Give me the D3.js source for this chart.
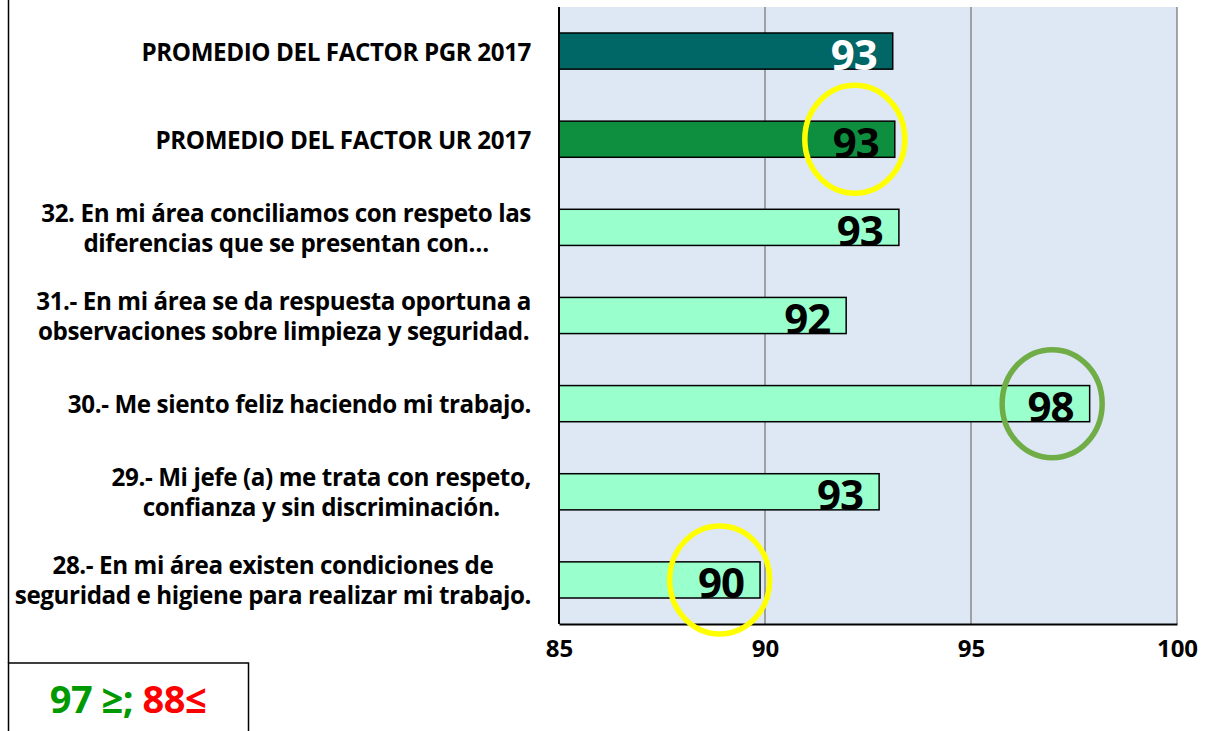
<!DOCTYPE html>
<html>
<head>
<meta charset="utf-8">
<script src="https://cdn.jsdelivr.net/npm/d3@7"></script>
<style>
  body { margin: 0; background: #fff; }
  svg { display: block; font-family: "Open Sans", Lato, sans-serif; font-weight: 700; }
</style>
</head>
<body>
<svg id="drawing_region"></svg>
<script>
// data
const categories = [
    ["PROMEDIO DEL FACTOR PGR 2017"],
    ["PROMEDIO DEL FACTOR UR 2017"],
    ["32. En mi área conciliamos con respeto las", "diferencias que se presentan con…"],
    ["31.- En mi área se da respuesta oportuna a", "observaciones sobre limpieza y seguridad."],
    ["30.- Me siento feliz haciendo mi trabajo."],
    ["29.- Mi jefe (a) me trata con respeto,", "confianza y sin discriminación."],
    ["28.- En mi área existen condiciones de", "seguridad e higiene para realizar mi trabajo."]
];
const values = [93.1, 93.15, 93.25, 91.97, 97.88, 92.77, 89.88];
const xTicks = [85, 90, 95, 100];
// highlighted labels: bar index, ellipse centre (in axis units), colour
const highlights = [
    {index: 1, at: 92.18, color: "#ffff00"},
    {index: 4, at: 96.97, color: "#70ad47"},
    {index: 6, at: 88.9, color: "#ffff00"}
];

const config = {
    width: 1227,
    height: 731,
    margin: {top: 7, right: 50, bottom: 107, left: 559}
};

const barFill = (i) => i === 0 ? "#006666" : (i === 1 ? "#0e8f3f" : "#99ffcc");

const svg = d3.select("#drawing_region")
    .attr("width", config.width)
    .attr("height", config.height);

const inner_width = config.width - config.margin.left - config.margin.right;
const inner_height = config.height - config.margin.top - config.margin.bottom;

const chart = svg.append("g")
    .attr("transform", `translate(${config.margin.left}, ${config.margin.top})`);

const xscale = d3.scaleLinear()
    .domain([85, 100])
    .range([0, inner_width]);

const yscale = d3.scaleBand()
    .domain(d3.range(values.length))
    .range([0, inner_height])
    .paddingInner(0.59)
    .paddingOuter(0.295);

// plot background
chart.append("rect")
    .attr("width", inner_width)
    .attr("height", inner_height)
    .attr("fill", "#dde8f4");

// vertical grid lines
chart.selectAll(".grid")
    .data(xTicks.slice(1))
    .join("line")
    .attr("class", "grid")
    .attr("x1", d => xscale(d))
    .attr("x2", d => xscale(d))
    .attr("y1", 0)
    .attr("y2", inner_height)
    .attr("stroke", "#888888")
    .attr("stroke-width", 1.5);

// bars
chart.selectAll(".bar")
    .data(values)
    .join("rect")
    .attr("class", "bar")
    .attr("x", 0)
    .attr("y", (d, i) => yscale(i))
    .attr("width", d => xscale(d))
    .attr("height", yscale.bandwidth())
    .attr("fill", (d, i) => barFill(i))
    .attr("stroke", "#000")
    .attr("stroke-width", 1.5);

// value labels
chart.selectAll(".val")
    .data(values)
    .join("text")
    .attr("class", "val")
    .attr("x", d => xscale(d) - 16)
    .attr("y", (d, i) => yscale(i) + yscale.bandwidth() / 2 + 2)
    .attr("text-anchor", "end")
    .attr("dominant-baseline", "central")
    .attr("font-size", "42px")
    .attr("letter-spacing", "-1px")
    .attr("fill", (d, i) => i === 0 ? "#fff" : "#000")
    .text(d => d3.format(".0f")(d));

// axes lines
const xaxis = d3.axisBottom(xscale)
    .tickValues(xTicks)
    .tickSize(0)
    .tickPadding(16);

const xaxis_group = chart.append("g")
    .attr("transform", `translate(0, ${inner_height})`)
    .call(xaxis);
xaxis_group.select(".domain").attr("stroke", "#000").attr("stroke-width", 2);
xaxis_group.selectAll("text")
    .attr("font-size", "24px")
    .attr("font-family", "'Open Sans', sans-serif")
    .attr("font-weight", 700)
    .attr("fill", "#000");

chart.append("line")
    .attr("x1", 0).attr("x2", 0)
    .attr("y1", 0).attr("y2", inner_height)
    .attr("stroke", "#000")
    .attr("stroke-width", 2);

// highlight ellipses
chart.selectAll(".hl")
    .data(highlights)
    .join("ellipse")
    .attr("class", "hl")
    .attr("cx", d => xscale(d.at))
    .attr("cy", d => yscale(d.index) + yscale.bandwidth() / 2)
    .attr("rx", 50)
    .attr("ry", 54)
    .attr("fill", "none")
    .attr("stroke", d => d.color)
    .attr("stroke-width", 5.5);

// category labels: block right aligned, lines centred inside the block
const labelRight = config.margin.left - 28;
const lineGap = 30;
categories.forEach((lines, i) => {
    const g = svg.append("g");
    const cy = config.margin.top + yscale(i) + yscale.bandwidth() / 2;
    const texts = lines.map((t, k) => g.append("text")
        .attr("y", cy + (k - (lines.length - 1) / 2) * lineGap)
        .attr("dominant-baseline", "central")
        .attr("text-anchor", "middle")
        .attr("font-size", "24.2px")
        .attr("letter-spacing", "-0.4px")
        .attr("fill", "#000")
        .text(t));
    const maxW = d3.max(texts, t => t.node().getComputedTextLength());
    texts.forEach(t => t.attr("x", labelRight - maxW / 2));
});

// left frame line and legend box
svg.append("line")
    .attr("x1", 8.5).attr("x2", 8.5)
    .attr("y1", 0).attr("y2", 663)
    .attr("stroke", "#000")
    .attr("stroke-width", 1.5);

svg.append("rect")
    .attr("x", 8.5)
    .attr("y", 663)
    .attr("width", 240)
    .attr("height", 80)
    .attr("fill", "#fff")
    .attr("stroke", "#000")
    .attr("stroke-width", 1.5);

const legend = svg.append("text")
    .attr("x", 128)
    .attr("y", 698)
    .attr("text-anchor", "middle")
    .attr("dominant-baseline", "central")
    .attr("font-size", "38px")
    .attr("letter-spacing", "-0.5px");
legend.append("tspan").attr("fill", "#009900").text("97 ≥; ");
legend.append("tspan").attr("fill", "#ff0000").text("88≤");
</script>
</body>
</html>
